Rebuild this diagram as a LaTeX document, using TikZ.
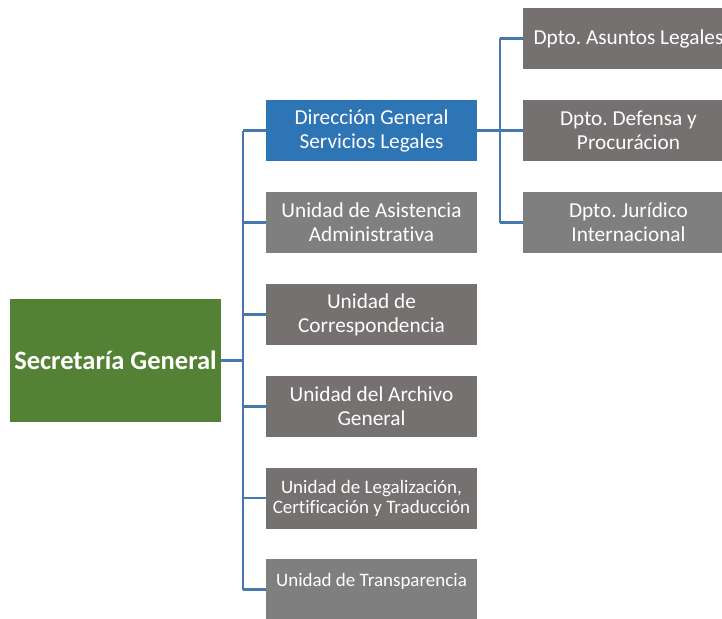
\documentclass[tikz,border=0pt]{standalone}
\usepackage{fontspec}
\setmainfont{Carlito}[Ligatures=NoCommon]
\usetikzlibrary{calc}
\frenchspacing
\definecolor{verdesg}{RGB}{84,130,53}
\definecolor{azuldir}{RGB}{46,117,182}
\definecolor{grisA}{RGB}{118,113,113}
\definecolor{grisB}{RGB}{127,127,127}
\definecolor{linea}{RGB}{70,120,175}
\tikzset{
	caja/.style={minimum width=211pt, minimum height=61pt, inner sep=0pt, text=white, align=center, font=\fontsize{21.3}{24}\selectfont},
	chica/.style={font=\fontsize{19}{20}\selectfont},
	rama/.style={draw=linea, line width=2.4pt}
}
\begin{document}
\begin{tikzpicture}[x=1pt, y=-1pt]
		%%%%% START %%%%%
		\useasboundingbox (0,0) rectangle (722,618);
		
		\node[caja, fill=verdesg, minimum height=123pt, font=\bfseries\fontsize{26.5}{30}\selectfont] (sg) at (115.5,360.5) {Secretaría General};
		
		\node[caja, fill=azuldir] (dgsl) at (371.5,130.5) {Dirección General\\Servicios Legales};
		\node[caja, fill=grisB] (uaa) at (371.5,222.5) {Unidad de Asistencia\\Administrativa};
		\node[caja, fill=grisA] (uc) at (371.5,314.5) {Unidad de\\Correspondencia};
		\node[caja, fill=grisA] (uag) at (371.5,406.5) {Unidad del Archivo\\General};
		\node[caja, chica, fill=grisA] (ulct) at (371.5,498) {Unidad de Legalización,\\Certificación y Traducción};
		\node[caja, chica, fill=grisB] (ut) at (371.5,589.5) {Unidad de Transparencia\\\mbox{}};
		
		\node[caja, fill=grisA] (dal) at (628.5,38.5) {Dpto. Asuntos Legales};
		\node[caja, fill=grisA] (ddp) at (628.5,130.5) {Dpto. Defensa y\\Procurácion};
		\node[caja, fill=grisB] (dji) at (628.5,222.5) {Dpto. Jurídico\\Internacional};
		
		% tronco principal
		\coordinate (t1) at (243,0);
		\draw[rama] (sg.east) -- (sg.east -| t1);
		\draw[rama] (dgsl.west -| t1) -- (ut.west -| t1);
		\foreach \n in {dgsl,uaa,uc,uag,ulct,ut}
			\draw[rama] (\n.west -| t1) -- (\n.west);
		
		% direccion
		\coordinate (t2) at (500,0);
		\draw[rama] (dgsl.east) -- (dgsl.east -| t2);
		\draw[rama] (dal.west -| t2) -- (dji.west -| t2);
		\foreach \n in {dal,ddp,dji}
			\draw[rama] (\n.west -| t2) -- (\n.west);
		
		%%%%% END %%%%%
	\end{tikzpicture}
\end{document}
